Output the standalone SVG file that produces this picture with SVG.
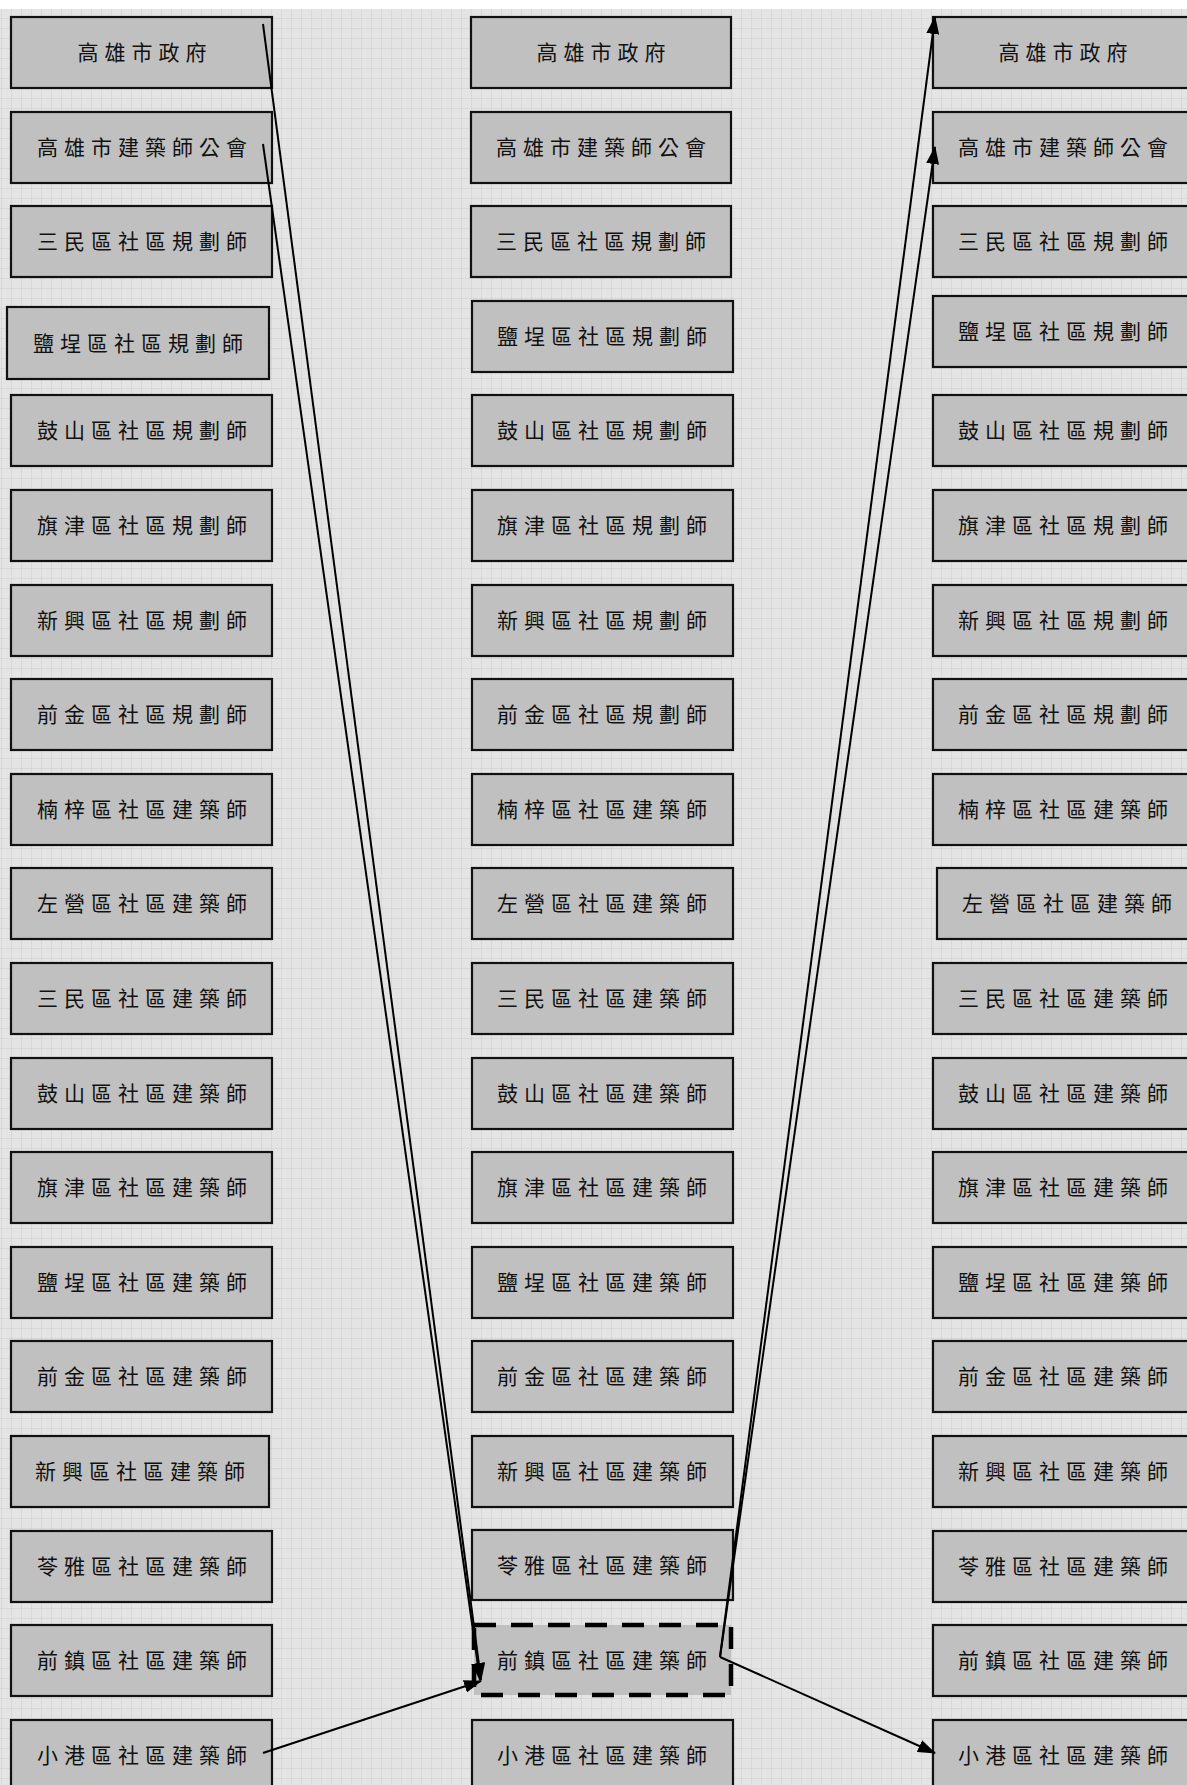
<svg xmlns="http://www.w3.org/2000/svg" width="1187" height="1785" viewBox="0 0 1187 1785">
<defs>
<pattern id="grid" width="10" height="10" patternUnits="userSpaceOnUse" x="2" y="9">
<rect width="10" height="10" fill="#e4e4e4"/>
<path d="M10 0V10M0 10H10" stroke="#cdcdcd" stroke-width="1" fill="none"/>
</pattern>
<marker id="ah" viewBox="0 0 18 13" refX="17" refY="6.5" markerWidth="18" markerHeight="13" markerUnits="userSpaceOnUse" orient="auto">
<path d="M0 0L18 6.5L0 13Z" fill="#000"/>
</marker>
<style>
.b{fill:#c0c0c0;stroke:#111;stroke-width:2.2}
.d{fill:#c0c0c0;stroke:#000;stroke-width:4.5;stroke-dasharray:22 15}
.t{font-family:"Noto Sans CJK TC","Noto Sans CJK SC",sans-serif;font-size:21px;letter-spacing:6px;fill:#111;text-anchor:middle;dominant-baseline:central}
.c{stroke:#000;stroke-width:2;fill:none;marker-end:url(#ah)}
</style>
</defs>
<rect width="1187" height="1785" fill="#fff"/>
<rect x="0" y="9" width="1187" height="1776" fill="url(#grid)"/>

<g id="L0"><rect class="b" x="11" y="17" width="261" height="71"/><text class="t" x="145" y="51">高雄市政府</text></g>
<g id="L1"><rect class="b" x="11" y="112" width="261" height="71"/><text class="t" x="145" y="146">高雄市建築師公會</text></g>
<g id="L2"><rect class="b" x="11" y="206" width="261" height="71"/><text class="t" x="145" y="240">三民區社區規劃師</text></g>
<g id="L3"><rect class="b" x="7" y="307" width="262" height="72"/><text class="t" x="141" y="342">鹽埕區社區規劃師</text></g>
<g id="L4"><rect class="b" x="11" y="395" width="261" height="71"/><text class="t" x="145" y="429">鼓山區社區規劃師</text></g>
<g id="L5"><rect class="b" x="11" y="490" width="261" height="71"/><text class="t" x="145" y="524">旗津區社區規劃師</text></g>
<g id="L6"><rect class="b" x="11" y="585" width="261" height="71"/><text class="t" x="145" y="619">新興區社區規劃師</text></g>
<g id="L7"><rect class="b" x="11" y="679" width="261" height="71"/><text class="t" x="145" y="713">前金區社區規劃師</text></g>
<g id="L8"><rect class="b" x="11" y="774" width="261" height="71"/><text class="t" x="145" y="808">楠梓區社區建築師</text></g>
<g id="L9"><rect class="b" x="11" y="868" width="261" height="71"/><text class="t" x="145" y="902">左營區社區建築師</text></g>
<g id="L10"><rect class="b" x="11" y="963" width="261" height="71"/><text class="t" x="145" y="997">三民區社區建築師</text></g>
<g id="L11"><rect class="b" x="11" y="1058" width="261" height="71"/><text class="t" x="145" y="1092">鼓山區社區建築師</text></g>
<g id="L12"><rect class="b" x="11" y="1152" width="261" height="71"/><text class="t" x="145" y="1186">旗津區社區建築師</text></g>
<g id="L13"><rect class="b" x="11" y="1247" width="261" height="71"/><text class="t" x="145" y="1281">鹽埕區社區建築師</text></g>
<g id="L14"><rect class="b" x="11" y="1341" width="261" height="71"/><text class="t" x="145" y="1375">前金區社區建築師</text></g>
<g id="L15"><rect class="b" x="11" y="1436" width="258" height="71"/><text class="t" x="143" y="1470">新興區社區建築師</text></g>
<g id="L16"><rect class="b" x="11" y="1531" width="261" height="71"/><text class="t" x="145" y="1565">苓雅區社區建築師</text></g>
<g id="L17"><rect class="b" x="11" y="1625" width="261" height="71"/><text class="t" x="145" y="1659">前鎮區社區建築師</text></g>
<g id="L18"><rect class="b" x="11" y="1720" width="261" height="71"/><text class="t" x="145" y="1754">小港區社區建築師</text></g>

<g id="M0"><rect class="b" x="471" y="17" width="260" height="71"/><text class="t" x="604" y="51">高雄市政府</text></g>
<g id="M1"><rect class="b" x="471" y="112" width="260" height="71"/><text class="t" x="604" y="146">高雄市建築師公會</text></g>
<g id="M2"><rect class="b" x="471" y="206" width="260" height="71"/><text class="t" x="604" y="240">三民區社區規劃師</text></g>
<g id="M3"><rect class="b" x="472" y="301" width="261" height="71"/><text class="t" x="605" y="335">鹽埕區社區規劃師</text></g>
<g id="M4"><rect class="b" x="472" y="395" width="261" height="71"/><text class="t" x="605" y="429">鼓山區社區規劃師</text></g>
<g id="M5"><rect class="b" x="472" y="490" width="261" height="71"/><text class="t" x="605" y="524">旗津區社區規劃師</text></g>
<g id="M6"><rect class="b" x="472" y="585" width="261" height="71"/><text class="t" x="605" y="619">新興區社區規劃師</text></g>
<g id="M7"><rect class="b" x="472" y="679" width="261" height="71"/><text class="t" x="605" y="713">前金區社區規劃師</text></g>
<g id="M8"><rect class="b" x="472" y="774" width="261" height="71"/><text class="t" x="605" y="808">楠梓區社區建築師</text></g>
<g id="M9"><rect class="b" x="472" y="868" width="261" height="71"/><text class="t" x="605" y="902">左營區社區建築師</text></g>
<g id="M10"><rect class="b" x="472" y="963" width="261" height="71"/><text class="t" x="605" y="997">三民區社區建築師</text></g>
<g id="M11"><rect class="b" x="472" y="1058" width="261" height="71"/><text class="t" x="605" y="1092">鼓山區社區建築師</text></g>
<g id="M12"><rect class="b" x="472" y="1152" width="261" height="71"/><text class="t" x="605" y="1186">旗津區社區建築師</text></g>
<g id="M13"><rect class="b" x="472" y="1247" width="261" height="71"/><text class="t" x="605" y="1281">鹽埕區社區建築師</text></g>
<g id="M14"><rect class="b" x="472" y="1341" width="261" height="71"/><text class="t" x="605" y="1375">前金區社區建築師</text></g>
<g id="M15"><rect class="b" x="472" y="1436" width="261" height="71"/><text class="t" x="605" y="1470">新興區社區建築師</text></g>
<g id="M16"><rect class="b" x="472" y="1530" width="261" height="70"/><text class="t" x="605" y="1564">苓雅區社區建築師</text></g>
<g id="M17"><rect class="d" x="474" y="1625" width="257" height="70"/><text class="t" x="605" y="1659">前鎮區社區建築師</text></g>
<g id="M18"><rect class="b" x="472" y="1720" width="261" height="71"/><text class="t" x="605" y="1754">小港區社區建築師</text></g>

<g id="R0"><rect class="b" x="933" y="17" width="260" height="71"/><text class="t" x="1066" y="51">高雄市政府</text></g>
<g id="R1"><rect class="b" x="933" y="112" width="260" height="71"/><text class="t" x="1066" y="146">高雄市建築師公會</text></g>
<g id="R2"><rect class="b" x="933" y="206" width="260" height="71"/><text class="t" x="1066" y="240">三民區社區規劃師</text></g>
<g id="R3"><rect class="b" x="933" y="296" width="260" height="71"/><text class="t" x="1066" y="330">鹽埕區社區規劃師</text></g>
<g id="R4"><rect class="b" x="933" y="395" width="260" height="71"/><text class="t" x="1066" y="429">鼓山區社區規劃師</text></g>
<g id="R5"><rect class="b" x="933" y="490" width="260" height="71"/><text class="t" x="1066" y="524">旗津區社區規劃師</text></g>
<g id="R6"><rect class="b" x="933" y="585" width="260" height="71"/><text class="t" x="1066" y="619">新興區社區規劃師</text></g>
<g id="R7"><rect class="b" x="933" y="679" width="260" height="71"/><text class="t" x="1066" y="713">前金區社區規劃師</text></g>
<g id="R8"><rect class="b" x="933" y="774" width="260" height="71"/><text class="t" x="1066" y="808">楠梓區社區建築師</text></g>
<g id="R9"><rect class="b" x="937" y="868" width="260" height="71"/><text class="t" x="1070" y="902">左營區社區建築師</text></g>
<g id="R10"><rect class="b" x="933" y="963" width="260" height="71"/><text class="t" x="1066" y="997">三民區社區建築師</text></g>
<g id="R11"><rect class="b" x="933" y="1058" width="260" height="71"/><text class="t" x="1066" y="1092">鼓山區社區建築師</text></g>
<g id="R12"><rect class="b" x="933" y="1152" width="260" height="71"/><text class="t" x="1066" y="1186">旗津區社區建築師</text></g>
<g id="R13"><rect class="b" x="933" y="1247" width="260" height="71"/><text class="t" x="1066" y="1281">鹽埕區社區建築師</text></g>
<g id="R14"><rect class="b" x="933" y="1341" width="260" height="71"/><text class="t" x="1066" y="1375">前金區社區建築師</text></g>
<g id="R15"><rect class="b" x="933" y="1436" width="260" height="71"/><text class="t" x="1066" y="1470">新興區社區建築師</text></g>
<g id="R16"><rect class="b" x="933" y="1531" width="260" height="71"/><text class="t" x="1066" y="1565">苓雅區社區建築師</text></g>
<g id="R17"><rect class="b" x="933" y="1625" width="260" height="71"/><text class="t" x="1066" y="1659">前鎮區社區建築師</text></g>
<g id="R18"><rect class="b" x="933" y="1720" width="260" height="71"/><text class="t" x="1066" y="1754">小港區社區建築師</text></g>

<g id="connectors">
<line class="c" x1="263" y1="24" x2="481" y2="1680"/>
<line class="c" x1="263" y1="144" x2="480" y2="1680"/>
<line class="c" x1="263" y1="1753" x2="481" y2="1681"/>
<line class="c" x1="720" y1="1657" x2="935" y2="17"/>
<line class="c" x1="720" y1="1657" x2="935" y2="147"/>
<line class="c" x1="720" y1="1657" x2="935" y2="1753"/>
</g>
</svg>
